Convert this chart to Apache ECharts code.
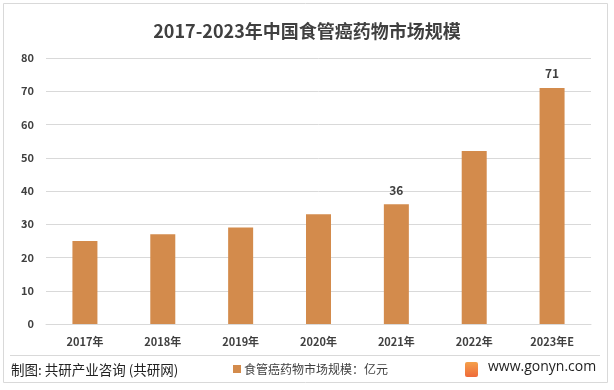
<!DOCTYPE html>
<html><head><meta charset="utf-8">
<script src="https://cdn.jsdelivr.net/npm/echarts@6/dist/echarts.min.js"></script>
<style>html,body{margin:0;padding:0;background:#fff}#c{width:614px;height:390px}</style>
</head><body><div id="c"></div>
<script>
const categories = ['2017年','2018年','2019年','2020年','2021年','2022年','2023年E'];
const values = [25, 27, 29, 33, 36, 52, 71];
const labeledIdx = [4, 6];
const titleText = '2017-2023年中国食管癌药物市场规模';
const seriesName = '食管癌药物市场规模：亿元';
const sourceText = '制图: 共研产业咨询 (共研网)';
const siteText = 'www.gonyn.com';

const chart = echarts.init(document.getElementById('c'), null, {renderer:'canvas'});
const font = '"Microsoft YaHei","Noto Sans CJK SC","Noto Sans",sans-serif';
chart.setOption({
  animation:false,
  textStyle:{fontFamily:font},
  title:{text:titleText,left:'center',top:17,textStyle:{fontSize:18,fontWeight:'bold',color:'#404040',fontFamily:font}},
  grid:{left:46,right:23,top:58,bottom:66,containLabel:false},
  legend:{show:true,left:228,top:358,itemWidth:8,itemHeight:8,itemGap:4,icon:'rect',
    textStyle:{fontSize:12,color:'#404040',fontFamily:font,padding:[0,0,0,-2]},data:[seriesName]},
  xAxis:{type:'category',data:categories,
    axisLine:{show:true,lineStyle:{color:'#d9d9d9'}},axisTick:{show:false},
    axisLabel:{color:'#404040',fontSize:11,fontWeight:'bold',margin:12}},
  yAxis:{type:'value',min:0,max:80,interval:10,
    axisLine:{show:false},axisTick:{show:false},
    splitLine:{lineStyle:{color:'#d9d9d9'}},
    axisLabel:{color:'#404040',fontSize:11,fontWeight:'bold',margin:12}},
  series:[{name:seriesName,type:'bar',barWidth:25,
    itemStyle:{color:'#d38b4c'},
    data:values.map((v,i)=>({value:v,label:{show:labeledIdx.includes(i)}})),
    label:{position:'top',color:'#404040',fontSize:12,fontWeight:'bold',distance:8}}],
  graphic:[
    {type:'rect',shape:{x:3.5,y:3.5,width:604,height:379},style:{fill:null,stroke:'#d9d9d9',lineWidth:1},silent:true,z:-1},
    {type:'line',shape:{x1:10,y1:355.5,x2:600,y2:355.5},style:{stroke:'#d9d9d9',lineWidth:1}},
    {type:'text',left:11,top:363,style:{text:sourceText,fontSize:13.5,fill:'#222',fontFamily:font}},
    {type:'rect',shape:{x:465,y:362,width:13,height:15,r:2},style:{fill:new echarts.graphic.LinearGradient(0,0,0,1,[{offset:0,color:'#f5a04a'},{offset:1,color:'#ee6a3a'}])}},
    {type:'text',left:488,top:360,style:{text:siteText,fontSize:14,fill:'#222',fontFamily:'"Open Sans",sans-serif'}}
  ]
});
</script></body></html>
